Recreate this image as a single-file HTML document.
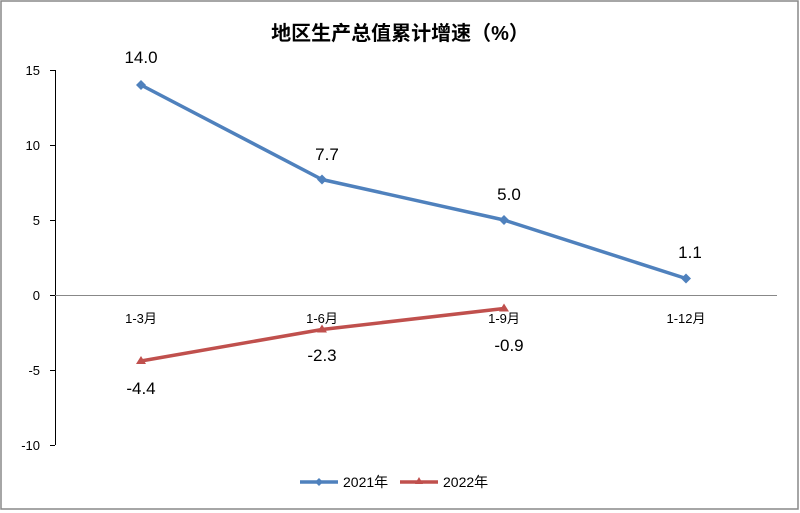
<!DOCTYPE html>
<html><head><meta charset="utf-8"><style>
html,body{margin:0;padding:0;background:#fff}
svg{display:block}
text{font-family:"Liberation Sans","Noto Sans CJK SC",sans-serif;fill:#000}
</style></head><body>
<svg width="800" height="513" viewBox="0 0 800 513" xmlns="http://www.w3.org/2000/svg">
<rect x="1" y="1" width="797" height="508" fill="#fff" stroke="#888" stroke-width="1.5"/>
<text x="400" y="40" font-size="20" text-anchor="middle" font-family="'Noto Serif CJK SC','Noto Sans CJK SC',serif" font-weight="bold">地区生产总值累计增速（%）</text>
<g stroke="#000" stroke-width="1">
<line x1="55.5" y1="70" x2="55.5" y2="445"/>
<line x1="50" y1="70.5" x2="55" y2="70.5"/>
<line x1="50" y1="145.5" x2="55" y2="145.5"/>
<line x1="50" y1="220.5" x2="55" y2="220.5"/>
<line x1="50" y1="295.5" x2="55" y2="295.5"/>
<line x1="50" y1="370.5" x2="55" y2="370.5"/>
<line x1="50" y1="445.5" x2="55" y2="445.5"/>
</g>
<line x1="55" y1="295.5" x2="777" y2="295.5" stroke="#888" stroke-width="1"/>
<g font-size="13" text-anchor="end">
<text x="40" y="75">15</text><text x="40" y="150">10</text><text x="40" y="225">5</text>
<text x="40" y="300">0</text><text x="40" y="375">-5</text><text x="40" y="450">-10</text>
</g>
<g font-size="13" text-anchor="middle">
<text x="141" y="323">1-3月</text><text x="322" y="323">1-6月</text><text x="504" y="323">1-9月</text><text x="686" y="323">1-12月</text>
</g>
<polyline points="141,85 322,179.5 504,220 686,278.5" fill="none" stroke="#4f81bd" stroke-width="3.5" stroke-linejoin="round"/>
<g fill="#4f81bd">
<path d="M141,80 l5,5 -5,5 -5,-5z"/><path d="M322,174.5 l5,5 -5,5 -5,-5z"/><path d="M504,215 l5,5 -5,5 -5,-5z"/><path d="M686,273.5 l5,5 -5,5 -5,-5z"/>
</g>
<polyline points="141,361 322,329.5 504,308.5" fill="none" stroke="#c0504d" stroke-width="3.5" stroke-linejoin="round"/>
<g fill="#c0504d">
<path d="M141,356 l5,8 -10,0z"/><path d="M322,324.5 l5,8 -10,0z"/><path d="M504,303.5 l5,8 -10,0z"/>
</g>
<g font-size="17" text-anchor="middle">
<text x="141" y="63">14.0</text><text x="327" y="160">7.7</text><text x="509" y="200">5.0</text><text x="690" y="258">1.1</text>
<text x="141" y="394">-4.4</text><text x="322" y="361">-2.3</text><text x="509" y="351">-0.9</text>
</g>
<line x1="300" y1="482" x2="338" y2="482" stroke="#4f81bd" stroke-width="3.5"/>
<path d="M319,478 l4,4 -4,4 -4,-4z" fill="#4f81bd"/>
<text x="343" y="487" font-size="14">2021年</text>
<line x1="400" y1="482" x2="438" y2="482" stroke="#c0504d" stroke-width="3.5"/>
<path d="M419,477 l4,7 -8,0z" fill="#c0504d"/>
<text x="443" y="487" font-size="14">2022年</text>
</svg>
</body></html>
